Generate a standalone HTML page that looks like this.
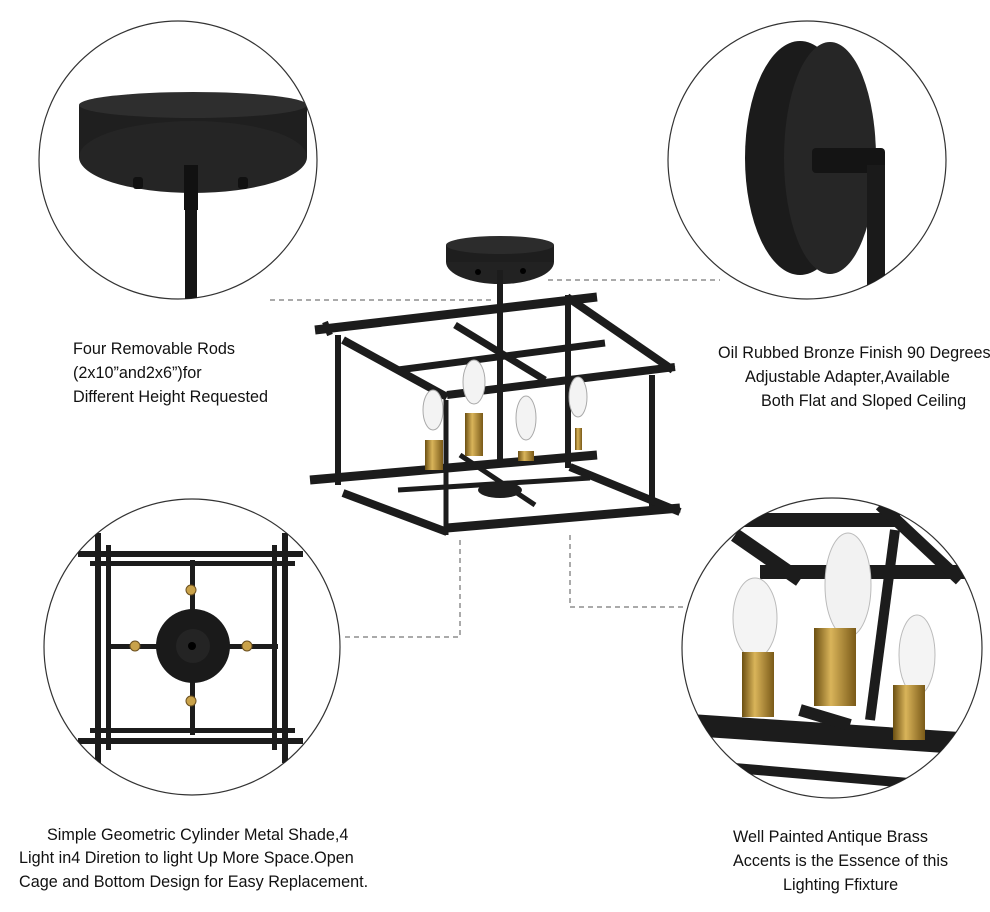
<!DOCTYPE html>
<html><head><style>
html,body{margin:0;padding:0;background:#fff;}
svg{display:block}
text{font-family:"Liberation Sans",Arial,sans-serif;font-size:16.2px;fill:#111;}
</style></head><body>
<svg width="990" height="912" viewBox="0 0 990 912" xmlns="http://www.w3.org/2000/svg">
<defs>
<clipPath id="c1"><circle cx="178" cy="160" r="139"/></clipPath>
<clipPath id="c2"><circle cx="807" cy="160" r="139"/></clipPath>
<clipPath id="c3"><circle cx="192" cy="647" r="148"/></clipPath>
<clipPath id="c4"><circle cx="832" cy="648" r="150"/></clipPath>
<linearGradient id="br" x1="0" x2="1"><stop offset="0" stop-color="#6b4f12"/><stop offset="0.4" stop-color="#d9b45a"/><stop offset="1" stop-color="#7a5a18"/></linearGradient>
</defs>

<g stroke="#555" stroke-width="1" stroke-dasharray="5,4" fill="none">
<line x1="270" y1="300" x2="495" y2="300"/>
<line x1="548" y1="280" x2="720" y2="280"/>
<polyline points="345,637 460,637 460,537"/>
<polyline points="570,535 570,607 685,607"/>
</g>

<g fill="none" stroke="#333" stroke-width="1.2">
<circle cx="178" cy="160" r="139"/>
<circle cx="807" cy="160" r="139"/>
<circle cx="192" cy="647" r="148"/>
<circle cx="832" cy="648" r="150"/>
</g>

<!-- top-left: canopy -->
<g clip-path="url(#c1)">
<rect x="185" y="165" width="12" height="140" fill="#151515"/>
<rect x="79" y="105" width="228" height="52" fill="#1f1f1f"/>
<ellipse cx="193" cy="157" rx="114" ry="36" fill="#252525"/>
<ellipse cx="193" cy="105" rx="114" ry="13" fill="#2e2e2e"/>
<rect x="133" y="177" width="10" height="12" rx="3" fill="#111"/>
<rect x="238" y="177" width="10" height="12" rx="3" fill="#111"/>
<rect x="184" y="165" width="14" height="45" fill="#111"/>
</g>

<!-- top-right: wall plate -->
<g clip-path="url(#c2)">
<ellipse cx="800" cy="158" rx="55" ry="117" fill="#1b1b1b"/>
<ellipse cx="830" cy="158" rx="46" ry="116" fill="#262626"/>
<rect x="812" y="148" width="73" height="25" rx="4" fill="#141414"/>
<rect x="867" y="165" width="18" height="150" fill="#1a1a1a"/>
</g>

<!-- bottom-left: top view -->
<g clip-path="url(#c3)">
<g fill="#1c1c1c">
<rect x="78" y="551" width="225" height="6"/>
<rect x="90" y="561" width="205" height="5"/>
<rect x="78" y="738" width="225" height="6"/>
<rect x="90" y="728" width="205" height="5"/>
<rect x="95" y="533" width="6" height="230"/>
<rect x="106" y="545" width="5" height="205"/>
<rect x="282" y="533" width="6" height="230"/>
<rect x="272" y="545" width="5" height="205"/>
<rect x="106" y="644" width="172" height="5"/>
<rect x="190" y="560" width="5" height="175"/>
</g>
<circle cx="193" cy="646" r="37" fill="#1a1a1a"/>
<circle cx="193" cy="646" r="17" fill="#242424"/>
<circle cx="192" cy="646" r="4" fill="#000"/>
<g fill="#c9a24a" stroke="#6b5020"><circle cx="191" cy="590" r="5"/><circle cx="135" cy="646" r="5"/><circle cx="247" cy="646" r="5"/><circle cx="191" cy="701" r="5"/></g>
</g>

<!-- bottom-right: detail -->
<g clip-path="url(#c4)">
<g stroke="#1c1c1c" stroke-linecap="butt" fill="none">
<line x1="700" y1="520" x2="900" y2="520" stroke-width="14"/>
<line x1="735" y1="535" x2="800" y2="580" stroke-width="14"/>
<line x1="760" y1="572" x2="990" y2="572" stroke-width="14"/>
<line x1="880" y1="505" x2="960" y2="580" stroke-width="12"/>
<line x1="895" y1="530" x2="870" y2="720" stroke-width="10"/>
<line x1="690" y1="725" x2="990" y2="745" stroke-width="22"/>
<line x1="700" y1="765" x2="990" y2="790" stroke-width="10"/>
<line x1="800" y1="710" x2="850" y2="725" stroke-width="12"/>
</g>
<ellipse cx="755" cy="618" rx="22" ry="40" fill="#f4f4f4" stroke="#bbb"/>
<ellipse cx="848" cy="585" rx="23" ry="52" fill="#f2f2f2" stroke="#bbb"/>
<ellipse cx="917" cy="655" rx="18" ry="40" fill="#f4f4f4" stroke="#bbb"/>
<rect x="742" y="652" width="32" height="65" fill="url(#br)"/>
<rect x="814" y="628" width="42" height="78" fill="url(#br)"/>
<rect x="893" y="685" width="32" height="55" fill="url(#br)"/>
</g>

<!-- central fixture -->
<g>
<ellipse cx="500" cy="262" rx="54" ry="22" fill="#222"/>
<rect x="446" y="245" width="108" height="17" fill="#1e1e1e"/>
<ellipse cx="500" cy="245" rx="54" ry="9" fill="#2c2c2c"/>
<circle cx="478" cy="272" r="3" fill="#000"/><circle cx="523" cy="271" r="3" fill="#000"/>
<g stroke="#1c1c1c" stroke-linecap="butt" fill="none">
<line x1="500" y1="270" x2="500" y2="460" stroke-width="6"/>
<line x1="315" y1="330" x2="597" y2="297" stroke-width="9"/>
<line x1="343" y1="340" x2="447" y2="397" stroke-width="8"/>
<line x1="567" y1="297" x2="673" y2="370" stroke-width="8"/>
<line x1="398" y1="370" x2="605" y2="343" stroke-width="7"/>
<line x1="455" y1="325" x2="545" y2="380" stroke-width="7"/>
<line x1="447" y1="395" x2="675" y2="367" stroke-width="8"/>
<line x1="325" y1="322" x2="330" y2="335" stroke-width="6"/>
<line x1="338" y1="335" x2="338" y2="485" stroke-width="6"/>
<line x1="568" y1="295" x2="568" y2="468" stroke-width="6"/>
<line x1="652" y1="375" x2="652" y2="510" stroke-width="6"/>
<line x1="446" y1="400" x2="446" y2="535" stroke-width="5"/>
<line x1="310" y1="480" x2="597" y2="455" stroke-width="9"/>
<line x1="343" y1="493" x2="447" y2="532" stroke-width="8"/>
<line x1="447" y1="528" x2="680" y2="508" stroke-width="9"/>
<line x1="570" y1="467" x2="680" y2="512" stroke-width="8"/>
<line x1="398" y1="490" x2="590" y2="478" stroke-width="5"/>
<line x1="460" y1="455" x2="535" y2="505" stroke-width="5"/>
</g>
<ellipse cx="500" cy="490" rx="22" ry="8" fill="#1e1e1e"/>
<ellipse cx="433" cy="410" rx="10" ry="20" fill="#f3f3f3" stroke="#aaa"/>
<ellipse cx="474" cy="382" rx="11" ry="22" fill="#f3f3f3" stroke="#aaa"/>
<ellipse cx="526" cy="418" rx="10" ry="22" fill="#f3f3f3" stroke="#aaa"/>
<ellipse cx="578" cy="397" rx="9" ry="20" fill="#f3f3f3" stroke="#aaa"/>
<rect x="425" y="440" width="18" height="30" fill="url(#br)"/>
<rect x="465" y="413" width="18" height="43" fill="url(#br)"/>
<rect x="518" y="451" width="16" height="10" fill="url(#br)"/>
<rect x="575" y="428" width="7" height="22" fill="url(#br)"/>
</g>

<text x="73" y="354">Four Removable Rods</text>
<text x="73" y="378">(2x10”and2x6”)for</text>
<text x="73" y="402">Different Height Requested</text>

<text x="718" y="358">Oil Rubbed Bronze Finish 90 Degrees</text>
<text x="745" y="382">Adjustable Adapter,Available</text>
<text x="761" y="406">Both Flat and Sloped Ceiling</text>

<text x="47" y="840">Simple Geometric Cylinder Metal Shade,4</text>
<text x="19" y="863">Light in4 Diretion to light Up More Space.Open</text>
<text x="19" y="887">Cage and Bottom Design for Easy Replacement.</text>

<text x="733" y="842">Well Painted Antique Brass</text>
<text x="733" y="866">Accents is the Essence of this</text>
<text x="783" y="890">Lighting Ffixture</text>
</svg>
</body></html>
